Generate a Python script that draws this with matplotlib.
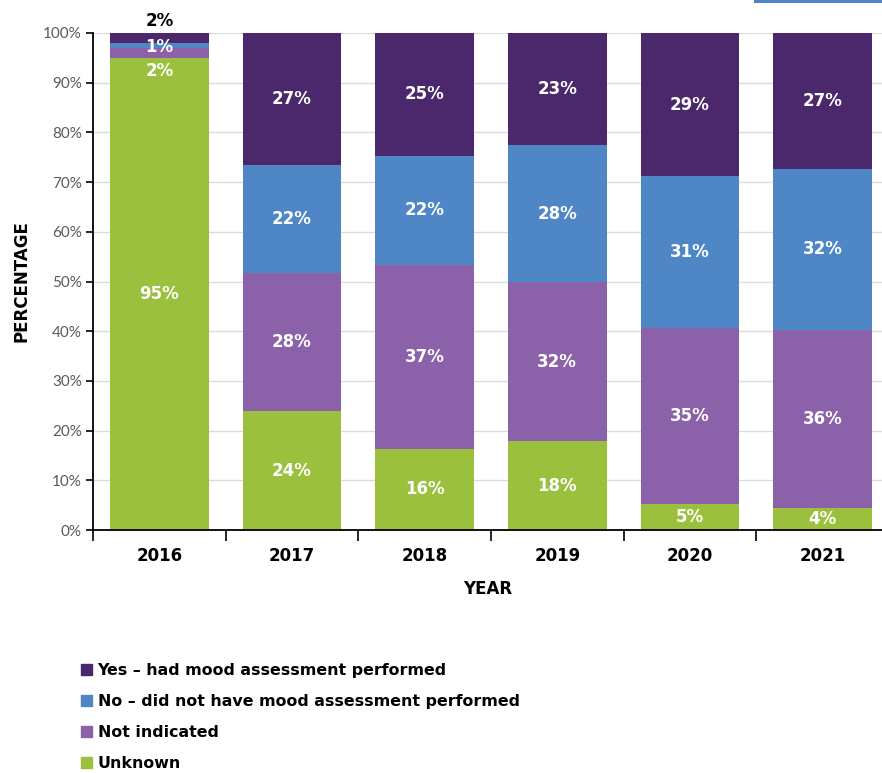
import numpy as np
import matplotlib
matplotlib.use("Agg")
import matplotlib.pyplot as plt
from matplotlib.patches import Rectangle, Patch

plt.rcParams['font.family'] = ['Lato', 'DejaVu Sans']
BOLD = ['DejaVu Sans']

years = ["2016", "2017", "2018", "2019", "2020", "2021"]
unknown = [95.0, 23.9, 16.3, 17.9, 5.2, 4.4]
not_indicated = [2.0, 27.9, 37.0, 31.9, 35.4, 35.9]
no_assess = [1.0, 21.6, 22.0, 27.6, 30.6, 32.4]
yes_assess = [2.0, 26.6, 24.7, 22.6, 28.8, 27.3]

series = [
    ("Unknown", unknown, "#9bc03e"),
    ("Not indicated", not_indicated, "#8b62aa"),
    ("No \u2013 did not have mood assessment performed", no_assess, "#4f87c6"),
    ("Yes \u2013 had mood assessment performed", yes_assess, "#4a286b"),
]

fig = plt.figure(figsize=(8.82, 7.73), dpi=100)
ax = fig.add_axes([93 / 882, 1 - 530 / 773, 1 - 93 / 882, (530 - 33) / 773])

x = np.arange(len(years))
bottom = np.zeros(len(years))
handles = []
for name, vals, col in series:
    vals = np.array(vals)
    ax.bar(x, vals, width=0.745, bottom=bottom, color=col, zorder=2)
    for i, v in enumerate(vals):
        label = f"{v:.0f}%"
        if v >= 3:
            ax.text(x[i], bottom[i] + v / 2, label, ha="center", va="center",
                    color="white", fontsize=12, fontweight="bold", family=BOLD, zorder=3)
        else:
            # 2016 thin segments: labels moved off the slice
            if name == "Unknown" or name == "Not indicated":
                y, c = bottom[i] - 2.6, "white"
            elif name.startswith("No"):
                y, c = bottom[i] + v / 2 - 0.4, "white"
            else:
                y, c = bottom[i] + v + 2.5, "black"
            ax.text(x[i], y, label, ha="center", va="center", color=c, family=BOLD,
                    fontsize=12, fontweight="bold", zorder=3, clip_on=False)
    bottom += vals
    handles.append(Patch(color=col, label=name))

ax.set_xlim(-0.5, 5.448)
ax.set_ylim(0, 100)
ax.set_yticks(np.arange(0, 101, 10))
ax.set_yticklabels([f"{t}%" for t in range(0, 101, 10)], color="#5a5a5a", fontsize=11)
ax.yaxis.grid(True, color="#dcdcdc", lw=1, zorder=0)
ax.set_axisbelow(True)

ax.set_xticks(np.arange(-0.5, 5.5, 1))
ax.set_xticklabels([])
ax.set_xticks(x, minor=True)
ax.set_xticklabels(years, minor=True, fontsize=12, fontweight="bold", family=BOLD)
ax.tick_params(axis="x", which="major", length=8, width=1.2, color="black")
ax.tick_params(axis="x", which="minor", length=0, pad=12)
ax.tick_params(axis="y", length=5, width=1.2, pad=3)

for s in ["top", "right"]:
    ax.spines[s].set_visible(False)
for s in ["left", "bottom"]:
    ax.spines[s].set_linewidth(1.3)

ax.set_ylabel("PERCENTAGE", fontsize=12, fontweight="bold", family=BOLD, labelpad=9)
ax.set_xlabel("YEAR", fontsize=12, fontweight="bold", family=BOLD, labelpad=11)

fig.legend(handles=handles[::-1], loc="upper left", bbox_to_anchor=(81 / 882, 1 - 663 / 773),
           frameon=False, prop={"family": BOLD, "weight": "bold", "size": 11.4},
           handlelength=0.7, handleheight=0.7, handletextpad=0.35,
           labelspacing=1.02, borderaxespad=0, borderpad=0)

fig.add_artist(Rectangle((754 / 882, 1 - 3 / 773), 1 - 754 / 882, 3 / 773,
                         transform=fig.transFigure, color="#4f87c6", lw=0))

fig.savefig("out.png", dpi=100)
